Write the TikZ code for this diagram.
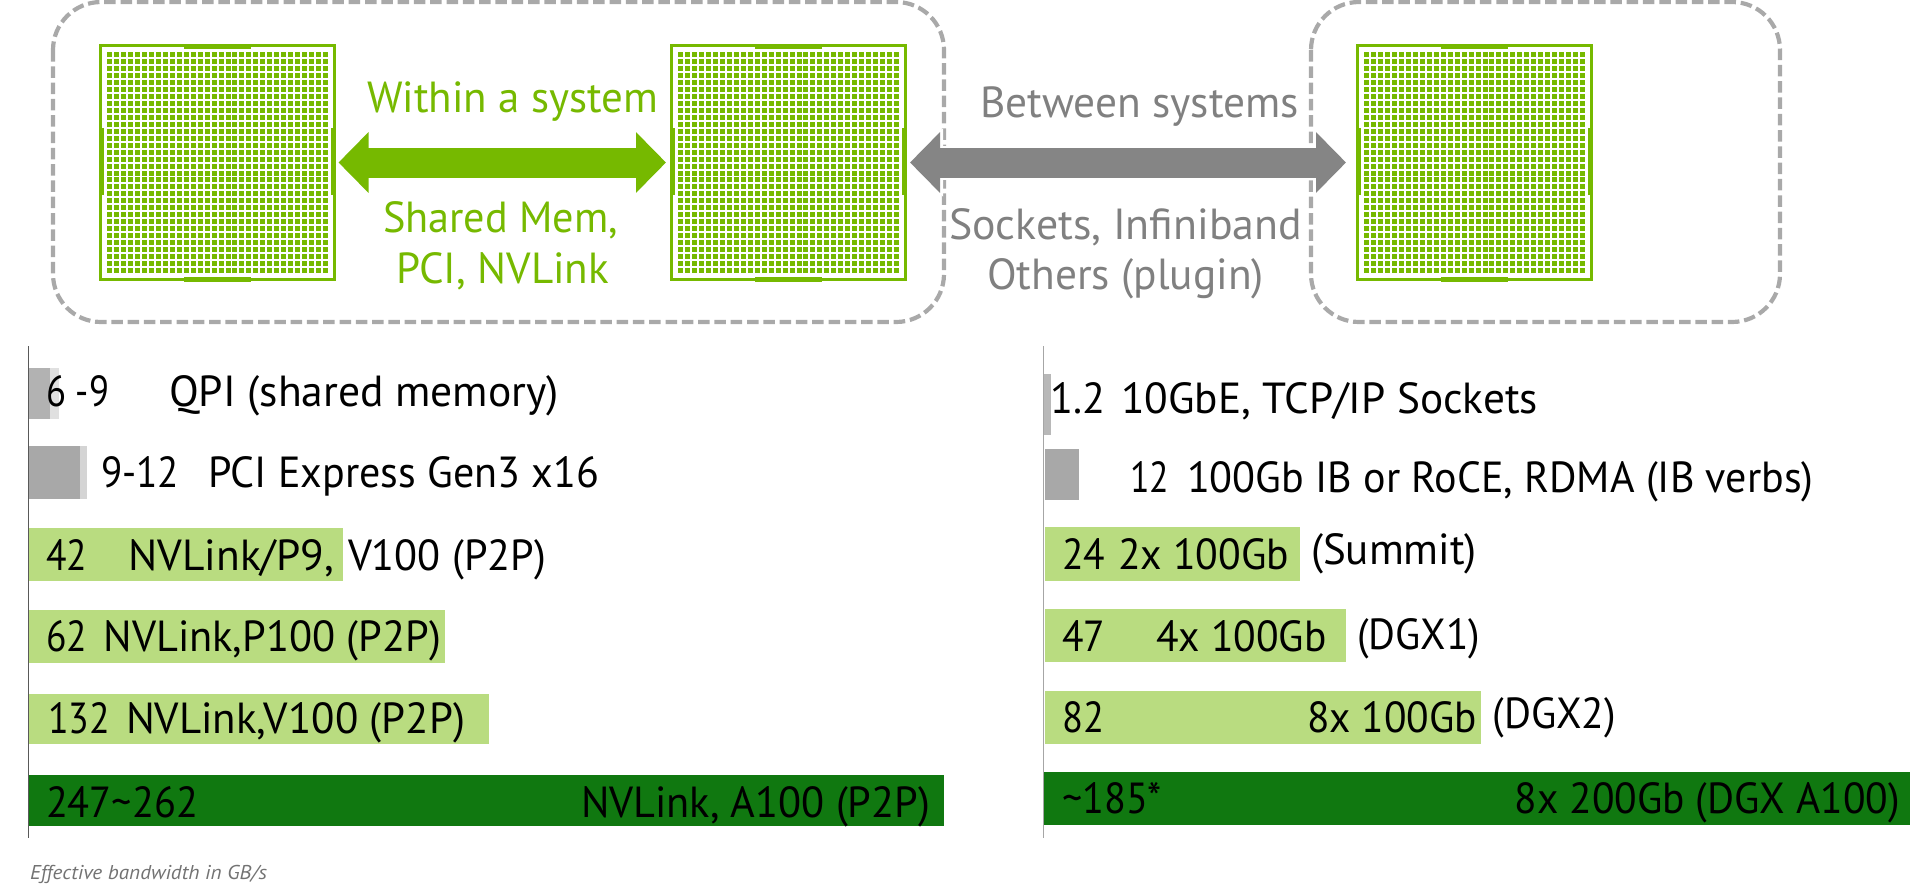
\documentclass[tikz,border=0pt]{standalone}
\usepackage{fontspec}
\usepackage{graphicx}
\setmainfont{PT Sans}
\usetikzlibrary{arrows.meta}
\definecolor{nvgreen}{HTML}{76B900}
\definecolor{arrowgrey}{HTML}{858585}
\definecolor{dashgrey}{HTML}{A9A9A9}
\definecolor{textgrey}{HTML}{808080}
\definecolor{lightbar}{HTML}{B9DC80}
\definecolor{darkbar}{HTML}{107810}
\tikzset{
  sysbox/.style={draw=dashgrey,line width=4.2pt,dash pattern=on 11.5pt off 4.8pt,rounded corners=48pt},
  chipbox/.style={draw=nvgreen,line width=3pt,fill=white,inner sep=0pt,minimum width=234pt,minimum height=234pt},
  padrow/.style={draw=nvgreen,line width=5pt,dash pattern=on 5pt off 1.96pt},
  tabfill/.style={fill=nvgreen,draw=none},
  bar/.style={draw=none},
  axisline/.style={line width=1pt},
  linkarrow/.style={line width=30pt,{Triangle[length=30pt,width=59pt]}-{Triangle[length=30pt,width=59pt]}},
  halo/.style={white,line width=34pt,{Triangle[length=35pt,width=66pt]}-{Triangle[length=35pt,width=66pt]}},
  lbl/.style={anchor=base west,inner sep=0pt,outer sep=0pt},
}
% name, left x of the outer chip
\newcommand\chipat[2]{%
  \node[chipbox] (#1) at (#2+118.5,162.5) {};
  \fill[tabfill] (#2+85,43.5) rectangle (#2+152,48.5);
  \fill[tabfill] (#2+85,276.5) rectangle (#2+152,281.5);
  \fill[tabfill] (#2,127.5) rectangle (#2+5,195);
  \fill[tabfill] (#2+232,127.5) rectangle (#2+237,195);
  \foreach \r in {0,...,31}{
    \draw[padrow] (#2+8.2,54.7+\r*6.96) -- (#2+8.2+220.6,54.7+\r*6.96);
  }%
}
% colour, name, x0, x1, baseline, text (font already set)
\newcommand\lab[6]{%
  \pgfmathsetlengthmacro{\lw}{(#4-#3)*1pt}%
  \node[lbl,text=#1] (#2) at (#3,#5) {\resizebox{\lw}{\height}{\fontsize{43.5}{50}\selectfont #6}};%
}
\begin{document}
\begin{tikzpicture}[x=1pt,y=-1pt]
\useasboundingbox (0,0) rectangle (1927,895);
% system boxes
\draw[sysbox] (53,2) rectangle (944,322);
\draw[sysbox] (1311,2) rectangle (1780,322);
% chips
\chipat{chipa}{99}
\chipat{chipb}{670}
\chipat{chipc}{1356}
% link arrows
\draw[linkarrow,nvgreen,shorten <=2.5pt,shorten >=4pt] (chipa.east) -- (chipb.west);
\draw[halo,shorten <=1pt,shorten >=8pt] (chipb.east) -- (chipc.west);
\draw[linkarrow,arrowgrey,shorten <=3pt,shorten >=10pt] (chipb.east) -- (chipc.west);
% top labels
\lab{nvgreen}{within}{367}{658}{112}{Within a system}
\lab{nvgreen}{shared}{383}{618}{232}{Shared Mem,}
\lab{nvgreen}{pci}{396}{609}{283}{PCI, NVLink}
\lab{textgrey}{between}{980}{1299}{117}{Between systems}
\lab{textgrey}{sockets}{949}{1302}{239}{Sockets, Infiniband}
\lab{textgrey}{others}{987}{1264}{289}{Others (plugin)}
% left chart
\fill[bar,fill=black!12] (28.5,368) rectangle (59,419);
\fill[bar,fill=black!30] (28.5,368) rectangle (50,419);
\fill[bar,fill=black!17] (28.5,446) rectangle (87,499);
\fill[bar,fill=black!34] (28.5,446) rectangle (80,499);
\fill[bar,fill=lightbar] (28.5,528) rectangle (343,581);
\fill[bar,fill=lightbar] (28.5,610) rectangle (445,663);
\fill[bar,fill=lightbar] (28.5,694) rectangle (489,743.5);
\fill[bar,fill=darkbar] (28.5,775) rectangle (944,826);
\coordinate (axlt) at (28.5,346);
\coordinate (axlb) at (28.5,838);
\draw[axisline,black!65] (axlt) -- (axlb);
\lab{black}{la}{46}{109}{406.5}{6 -9}
\lab{black}{lb}{169}{559}{406.5}{QPI (shared memory)}
\lab{black}{lc}{101}{179}{487}{9-12}
\lab{black}{ld}{208}{599}{487}{PCI Express Gen3 x16}
\lab{black}{le}{46}{87}{570}{42}
\lab{black}{lf}{128.5}{334}{570}{NVLink/P9,}
\lab{black}{lg}{348}{546}{570}{V100 (P2P)}
\lab{black}{lh}{46}{87}{651.5}{62}
\lab{black}{li}{103.6}{441}{651.5}{NVLink,P100 (P2P)}
\lab{black}{lj}{48}{110}{733}{132}
\lab{black}{lk}{126}{465}{733}{NVLink,V100 (P2P)}
\lab{black}{ll}{46}{198}{817}{247\textasciitilde262}
\lab{black}{lm}{581}{930}{817}{NVLink, A100 (P2P)}
% right chart
\fill[bar,fill=black!28] (1043,374) rectangle (1051,435);
\fill[bar,fill=black!34] (1045,449) rectangle (1079,500);
\fill[bar,fill=lightbar] (1045,527) rectangle (1300,581);
\fill[bar,fill=lightbar] (1045,609) rectangle (1346,662);
\fill[bar,fill=lightbar] (1045,691) rectangle (1481,743.5);
\fill[bar,fill=darkbar] (1043,772) rectangle (1910,825);
\coordinate (axrt) at (1043,346);
\coordinate (axrb) at (1043,838);
\draw[axisline,black!35] (axrt) -- (axrb);
\lab{black}{ra}{1050}{1105}{413}{1.2}
\lab{black}{rb}{1121}{1538}{413}{10GbE, TCP/IP Sockets}
\lab{black}{rc}{1130}{1169}{492}{12}
\lab{black}{rd}{1187}{1813.5}{492}{100Gb IB or RoCE, RDMA (IB verbs)}
\lab{black}{re}{1062}{1105}{569}{24}
\lab{black}{rf}{1118}{1289}{569}{2x 100Gb}
\lab{black}{rg}{1311}{1477}{564}{(Summit)}
\lab{black}{rh}{1062}{1105}{651.5}{47}
\lab{black}{ri}{1156}{1326.5}{651.5}{4x 100Gb}
\lab{black}{rj}{1357}{1480}{649}{(DGX1)}
\lab{black}{rk}{1062}{1104}{732}{82}
\lab{black}{rl}{1307}{1477}{732}{8x 100Gb}
\lab{black}{rm}{1492.5}{1616}{728}{(DGX2)}
\lab{black}{rn}{1062}{1162}{813.6}{\textasciitilde185*}
\lab{black}{ro}{1514.5}{1900}{813.6}{8x 200Gb (DGX A100)}
% footnote
\node[lbl,text=black!55] (foot) at (30,879) {\resizebox{237pt}{\height}{\fontsize{20}{24}\selectfont\itshape Effective bandwidth in GB/s}};
\end{tikzpicture}
\end{document}
